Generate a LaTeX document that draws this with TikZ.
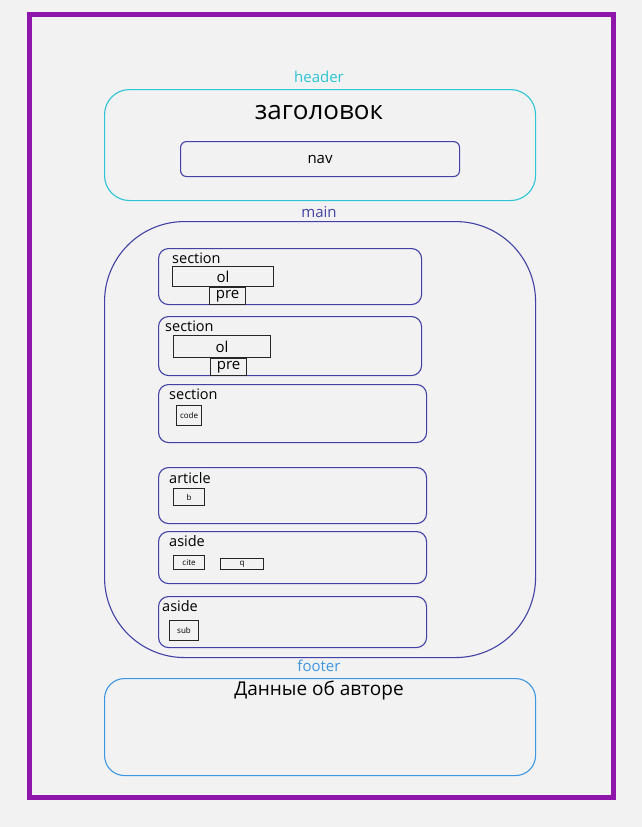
\documentclass[tikz,border=0pt]{standalone}
\usepackage{fontspec}
\setmainfont{Open Sans}

\definecolor{framecol}{RGB}{142,22,170}
\definecolor{hdrcol}{RGB}{45,196,212}
\definecolor{maincol}{RGB}{66,66,166}
\definecolor{ftrcol}{RGB}{60,150,226}
\definecolor{bgcol}{RGB}{242,242,242}

\tikzset{
  block/.style={draw=maincol, line width=1.1pt, rounded corners=10pt, inner sep=0pt, anchor=north west},
  tag/.style={draw=black!85, line width=1.1pt, inner sep=0pt, anchor=north west},
  caption/.style={inner sep=0pt, anchor=west, font=\fontsize{14.5}{14.5}\selectfont},
  tiny tag/.style={tag, font=\fontsize{8}{8}\selectfont},
}

\begin{document}
\begin{tikzpicture}[x=1pt, y=-1pt]

    % background and page frame
    \fill[bgcol] (0,0) rectangle (642,827);
    \node[draw=framecol, line width=4.5pt, inner sep=0pt, anchor=north west,
      minimum width=584pt, minimum height=783pt] (page) at (27,12) {};

    % header
    \node[text=hdrcol, font=\fontsize{15}{15}\selectfont] (hdrlabel) at (319,77) {header};
    \node[draw=hdrcol, line width=1.1pt, rounded corners=25pt, inner sep=0pt, anchor=north west,
      minimum width=431pt, minimum height=111pt] (hdr) at (104,89) {};
    \node[font=\fontsize{26}{26}\selectfont] (title) at (319,113) {заголовок};
    \node[block, rounded corners=6pt, minimum width=279pt, minimum height=35pt,
      font=\fontsize{15}{15}\selectfont] (nav) at (180,141) {nav};

    % main
    \node[text=maincol, font=\fontsize{15}{15}\selectfont] (mainlabel) at (319,212) {main};
    \node[block, rounded corners=80pt, minimum width=431pt, minimum height=436pt] (main) at (104,221) {};

    % first section
    \node[block, minimum width=263pt, minimum height=56pt] (sec1) at (158,248) {};
    \node[caption] (sec1label) at (172,258) {section};
    \node[tag, minimum width=101pt, minimum height=20pt, font=\fontsize{15}{15}\selectfont] (ol1) at (172,266) {ol};
    \node[tag, minimum width=36pt, minimum height=17pt, font=\fontsize{15}{15}\selectfont] (pre1) at (209,287) {pre};

    % second section
    \node[block, minimum width=263pt, minimum height=59pt] (sec2) at (158,316) {};
    \node[caption] (sec2label) at (165,326) {section};
    \node[tag, minimum width=97pt, minimum height=22pt, font=\fontsize{15}{15}\selectfont] (ol2) at (173,335) {ol};
    \node[tag, minimum width=36pt, minimum height=17pt, font=\fontsize{15}{15}\selectfont] (pre2) at (210,358) {pre};

    % third section
    \node[block, minimum width=268pt, minimum height=58pt] (sec3) at (158,384) {};
    \node[caption] (sec3label) at (169,394) {section};
    \node[tiny tag, minimum width=25pt, minimum height=20pt] (code) at (176,405) {code};

    % article
    \node[block, minimum width=268pt, minimum height=56pt] (art) at (158,467) {};
    \node[caption] (artlabel) at (169,478) {article};
    \node[tiny tag, minimum width=31pt, minimum height=17pt] (bold) at (173,488) {b};

    % first aside
    \node[block, minimum width=268pt, minimum height=52pt] (aside1) at (158,531) {};
    \node[caption] (aside1label) at (169,541) {aside};
    \node[tiny tag, minimum width=31pt, minimum height=14pt] (cite) at (173,555) {cite};
    \node[tiny tag, minimum width=43pt, minimum height=11pt] (quote) at (220,558) {q};

    % second aside
    \node[block, minimum width=268pt, minimum height=51pt] (aside2) at (158,596) {};
    \node[caption] (aside2label) at (162,606) {aside};
    \node[tiny tag, minimum width=29pt, minimum height=20pt] (sub) at (169,620) {sub};

    % footer
    \node[text=ftrcol, font=\fontsize{15}{15}\selectfont] (ftrlabel) at (319,666) {footer};
    \node[draw=ftrcol, line width=1.1pt, rounded corners=20pt, inner sep=0pt, anchor=north west,
      minimum width=431pt, minimum height=97pt] (ftr) at (104,678) {};
    \node[font=\fontsize{19}{19}\selectfont] (author) at (319,690) {Данные об авторе};

\end{tikzpicture}
\end{document}
